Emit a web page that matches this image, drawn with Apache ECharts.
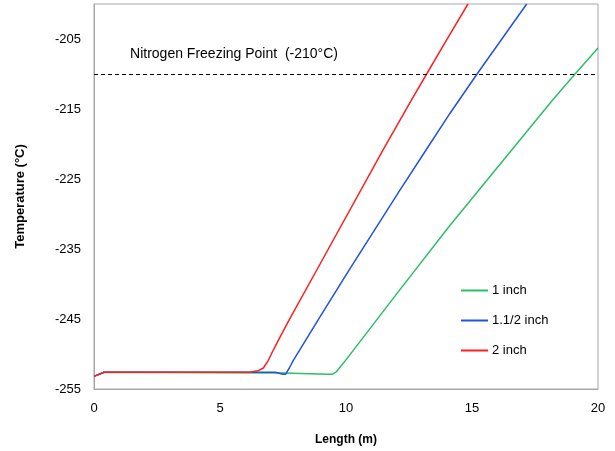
<!DOCTYPE html>
<html lang="en">
<head>
    <meta charset="UTF-8">
    <script src="https://cdn.jsdelivr.net/npm/echarts@6.0.0/dist/echarts.min.js"></script>
    <title>Temperature vs Length</title>
    <style>
        html, body { margin: 0; padding: 0; background: #fff; }
    </style>
</head>
<body>
<div id="main" style="width: 615px;height:451px;"></div>
<script type="text/javascript">
    // [length (m), temperature (°C)]
    var oneInch = [[0, -253.2], [0.4, -252.6], [7.5, -252.7], [9.3, -252.9], [9.45, -252.9], [9.6, -252.6],
        [9.9, -251.3], [12.14, -240.8], [14.13, -231.6], [18.2, -213.7], [19.09, -210.0], [20, -206.3]];
    var oneHalfInch = [[0, -253.2], [0.4, -252.6], [7.2, -252.6], [7.5, -252.9], [7.6, -252.9], [7.75, -252.0],
        [7.91, -250.9], [8.9, -245.1], [10.09, -238.2], [12.14, -226.6], [13.15, -221.0],
        [14.13, -215.6], [15.2, -210.0], [17.17, -200]];
    var twoInch = [[0, -253.2], [0.4, -252.6], [6.2, -252.6], [6.5, -252.4], [6.72, -252.0], [6.92, -250.9],
        [7.12, -249.4], [7.35, -247.8], [7.75, -245.1], [8.84, -238.0], [11.46, -220.9],
        [12.6, -213.7], [13.2, -210.0], [14.0, -205.1], [14.84, -200]];
    var seriesNames = ['1 inch', '1.1/2 inch', '2 inch'];
    var freezingPoint = -210;

    var font = 'Liberation Sans';
    var myChart = echarts.init(document.getElementById('main'));
    var option = {
        animation: false,
        textStyle: { fontFamily: font },
        grid: { left: 94, right: 17, top: 4, bottom: 62, show: true, borderColor: '#a6a6a6', borderWidth: 1 },
        legend: {
            orient: 'vertical',
            left: 456, top: 279,
            itemWidth: 27, itemHeight: 2, itemGap: 17,
            icon: 'rect',
            data: seriesNames,
            textStyle: { fontFamily: font, fontSize: 13, color: '#000', padding: [0, 0, 0, -1] }
        },
        xAxis: {
            type: 'value', min: 0, max: 20, interval: 5,
            name: 'Length (m)', nameLocation: 'middle', nameGap: 45,
            nameTextStyle: { fontWeight: 'bold', fontSize: 12, color: '#000' },
            axisLine: { lineStyle: { color: '#a6a6a6' } },
            axisTick: { show: false },
            splitLine: { show: false },
            axisLabel: { fontSize: 13, color: '#000', margin: 13 }
        },
        yAxis: {
            type: 'value', min: -255, max: -200, interval: 5,
            name: 'Temperature (°C)', nameLocation: 'middle', nameGap: 67,
            nameTextStyle: { fontWeight: 'bold', fontSize: 13, color: '#000' },
            axisLine: { show: true, lineStyle: { color: '#a6a6a6' } },
            axisTick: { show: false },
            splitLine: { show: false },
            axisLabel: {
                fontSize: 13, color: '#000', margin: 13,
                formatter: function (v) { return (v + 255) % 10 === 0 ? String(v) : ''; }
            }
        },
        series: [
            { name: seriesNames[0], type: 'line', data: oneInch, showSymbol: false, color: '#2dbe66', lineStyle: { width: 1.5 } },
            { name: seriesNames[1], type: 'line', data: oneHalfInch, showSymbol: false, color: '#2152e0', lineStyle: { width: 1.5 } },
            {
                name: seriesNames[2], type: 'line', data: twoInch, showSymbol: false, color: '#ff1f1f', lineStyle: { width: 1.5 },
                markLine: {
                    silent: true, symbol: 'none',
                    lineStyle: { color: '#000', type: [4, 3], width: 1.2 },
                    label: { show: false },
                    data: [{ yAxis: freezingPoint }]
                }
            }
        ]
    };
    myChart.setOption(option);

    // annotation above the freezing line
    var p = myChart.convertToPixel({ gridIndex: 0 }, [1.43, freezingPoint]);
    myChart.setOption({
        graphic: [{
            type: 'text', left: p[0], top: p[1] - 27,
            style: { text: 'Nitrogen Freezing Point  (-210°C)', font: '14px ' + font, fill: '#000' }
        }]
    });
</script>
</body>
</html>
